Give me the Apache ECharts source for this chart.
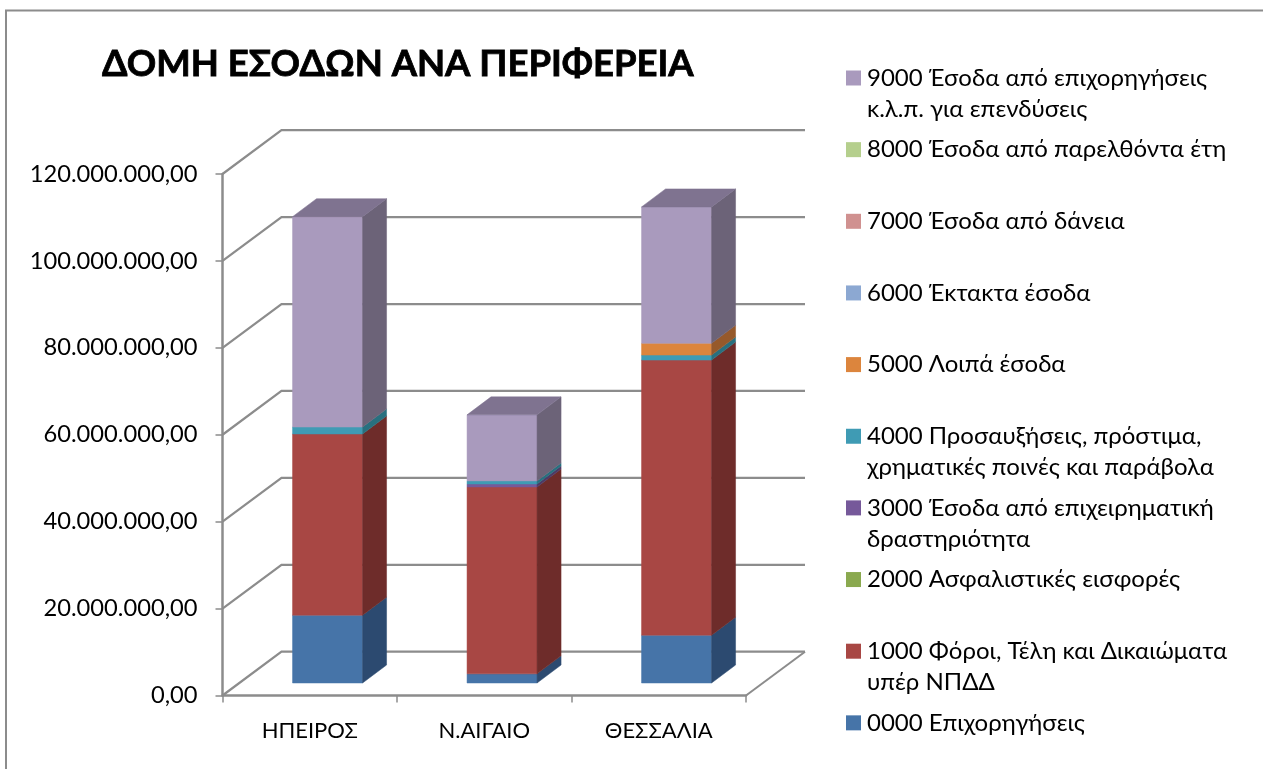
<!DOCTYPE html>
<html><head><meta charset="utf-8">
<style>html,body{margin:0;padding:0;background:#fff}#c{width:1263px;height:769px}</style>
<script src="https://cdn.jsdelivr.net/npm/echarts@6/dist/echarts.min.js"></script>
</head><body><div id="c"></div>
<script>
var titleText = 'ΔΟΜΗ ΕΣΟΔΩΝ ΑΝΑ ΠΕΡΙΦΕΡΕΙΑ';
var categories = ['ΗΠΕΙΡΟΣ', 'Ν.ΑΙΓΑΙΟ', 'ΘΕΣΣΑΛΙΑ'];
var yTickValues = [0, 20000000, 40000000, 60000000, 80000000, 100000000, 120000000];
var yTickLabels = ['0,00', '20.000.000,00', '40.000.000,00', '60.000.000,00', '80.000.000,00', '100.000.000,00', '120.000.000,00'];
var names = [
  '0000 Επιχορηγήσεις',
  '1000 Φόροι, Τέλη και Δικαιώματα\nυπέρ ΝΠΔΔ',
  '2000 Ασφαλιστικές εισφορές',
  '3000 Έσοδα από επιχειρηματική\nδραστηριότητα',
  '4000 Προσαυξήσεις, πρόστιμα,\nχρηματικές ποινές και παράβολα',
  '5000 Λοιπά έσοδα',
  '6000 Έκτακτα έσοδα',
  '7000 Έσοδα από δάνεια',
  '8000 Έσοδα από παρελθόντα έτη',
  '9000 Έσοδα από επιχορηγήσεις\nκ.λ.π. για επενδύσεις'
];
var s0000 = [15600000, 2100000, 11000000];
var s1000 = [41700000, 43000000, 63300000];
var s2000 = [0, 0, 0];
var s3000 = [0, 700000, 0];
var s4000 = [1600000, 700000, 1150000];
var s5000 = [0, 0, 2700000];
var s6000 = [0, 0, 0];
var s7000 = [0, 0, 0];
var s8000 = [0, 0, 0];
var s9000 = [48400000, 15200000, 31400000];
var values = [s0000, s1000, s2000, s3000, s4000, s5000, s6000, s7000, s8000, s9000];
var frontColors = ['#4674A8', '#A84744', '#8AA94F', '#76599A', '#3F9BB4', '#DC853D', '#8CA8D2', '#D09190', '#B5CF8D', '#A99ABD'];
var sideColors = ['#2C4A70', '#6E2C2A', '#5A7033', '#4C3A66', '#28707F', '#96592A', '#5B7096', '#8C5F5E', '#7A8F5C', '#6C6378'];
var topColors = ['#3A5F8C', '#8C3B39', '#728C41', '#624A80', '#337F94', '#B66E33', '#748BB0', '#AD7877', '#96AC75', '#7F7390'];

var FONT = 'Lato, "Noto Sans", sans-serif';
var DEPTH = [59, -43.8];      // wall depth projection
var BAR_SHIFT = [17.8, -12.5]; // bar position within the depth
var BAR_DEPTH = [24, -18];    // depth of a bar
var BAR_W = 70;
var GRID = '#8C8C8C';

function poly(pts, fill) {
  return { type: 'polygon', shape: { points: pts }, style: { fill: fill, stroke: fill, lineWidth: 0.5 } };
}
function wallRender(params, api) {
  var cs = params.coordSys, y = api.coord([0, api.value(1)])[1], x0 = cs.x, x1 = cs.x + cs.width;
  var kids = [{ type: 'polyline', shape: { points: [[x0, y], [x0 + DEPTH[0], y + DEPTH[1]], [x1 + DEPTH[0], y + DEPTH[1]]] },
    style: { fill: 'none', stroke: GRID, lineWidth: 2.2 } }];
  if (api.value(1) === 0) kids.push({ type: 'line', shape: { x1: x1, y1: y, x2: x1 + DEPTH[0], y2: y + DEPTH[1] }, style: { stroke: GRID, lineWidth: 2 } });
  return { type: 'group', children: kids };
}
function barRender(params, api) {
  var si = api.value(3);
  var lo = api.coord([api.value(0), api.value(1)]), hi = api.coord([api.value(0), api.value(2)]);
  if (api.value(2) === api.value(1)) return null;
  var l = lo[0] - BAR_W / 2 + BAR_SHIFT[0], r = l + BAR_W, b = lo[1] + BAR_SHIFT[1], t = hi[1] + BAR_SHIFT[1];
  var dx = BAR_DEPTH[0], dy = BAR_DEPTH[1];
  var kids = [
    poly([[l, b], [r, b], [r, t], [l, t]], frontColors[si]),
    poly([[r, b], [r + dx, b + dy], [r + dx, t + dy], [r, t]], sideColors[si])
  ];
  if (api.value(4)) kids.push(poly([[l, t], [r, t], [r + dx, t + dy], [l + dx, t + dy]], topColors[si]));
  return { type: 'group', children: kids };
}
var series = [{
  type: 'custom', silent: true, z: 1, renderItem: wallRender,
  data: yTickValues.map(function (v) { return [0, v]; }), encode: { x: 0, y: 1 }
}];
names.forEach(function (nm, si) {
  series.push({
    name: nm, type: 'custom', z: 2 + si, renderItem: barRender,
    itemStyle: { color: frontColors[si] },
    encode: { x: 0, y: [1, 2] },
    data: categories.map(function (c, ci) {
      var base = 0, i;
      for (i = 0; i < si; i++) base += values[i][ci];
      var later = 0;
      for (i = si + 1; i < values.length; i++) later += values[i][ci];
      return [ci, base, base + values[si][ci], si, later === 0 ? 1 : 0];
    })
  });
});
var chart = echarts.init(document.getElementById('c'), null, { renderer: 'canvas' });
chart.setOption({
  animation: false,
  backgroundColor: '#fff',
  title: { text: titleText, left: 102, top: 46, padding: 0,
    textStyle: { fontFamily: FONT, fontSize: 36.5, fontWeight: 'bold', color: '#000', textBorderColor: '#000', textBorderWidth: 0.8 } },
  grid: { left: 222.5, top: 174, width: 523.5, height: 521.5 },
  xAxis: { type: 'category', data: categories,
    axisLine: { lineStyle: { color: GRID, width: 2.5 } },
    axisTick: { show: true, length: 7, lineStyle: { color: GRID, width: 1.5 } },
    axisLabel: { color: '#000', fontFamily: FONT, fontSize: 22, margin: 24 } },
  yAxis: { type: 'value', min: 0, max: 120000000, interval: 20000000,
    axisLine: { show: true, lineStyle: { color: GRID, width: 2.5 } },
    axisTick: { show: true, length: 7, lineStyle: { color: GRID, width: 1.5 } },
    splitLine: { show: false },
    axisLabel: { color: '#000', fontFamily: FONT, fontSize: 23.7, margin: 25,
      formatter: function (v) { return yTickLabels[yTickValues.indexOf(v)]; } } },
  legend: { orient: 'vertical', left: 846, top: 31.5, height: 1200, padding: 0, icon: 'rect', itemWidth: 15, itemHeight: 15,
    itemGap: 71.65 - 93, selectedMode: false, align: 'left',
    data: names.slice().reverse(),
    textStyle: { color: '#000', fontFamily: FONT, fontSize: 24, lineHeight: 31 , padding: [0, 0, 0, 1]},
    formatter: function (n) { return '\n' + (n.indexOf('\n') >= 0 ? n : n + '\n '); } },
  graphic: [{ type: 'polyline', silent: true, z: 100,
    shape: { points: [[6, 769], [6, 10.5], [1263, 10.5]] },
    style: { fill: 'none', stroke: '#8C8C8C', lineWidth: 2 } }],
  series: series
});
</script></body></html>
